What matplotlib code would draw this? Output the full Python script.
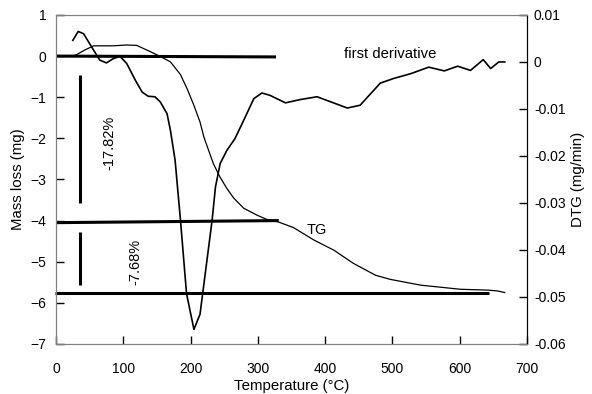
import numpy as np
import matplotlib.pyplot as plt

plt.rcParams['font.family'] = ['Liberation Sans', 'DejaVu Sans']
plt.rcParams['font.size'] = 10

# TG curve: temperature (C) vs mass loss (mg)
tg_temp = [25, 31, 43, 56, 70, 85, 105, 120, 140, 155, 170, 185, 195, 205,
           214, 220, 227, 234, 244, 254, 264, 279, 299, 313, 330, 353, 383,
           413, 442, 475, 497, 542, 601, 641, 656, 667]
tg_mass = [0.0, 0.04, 0.15, 0.25, 0.25, 0.25, 0.27, 0.26, 0.11, -0.01, -0.14,
           -0.45, -0.8, -1.2, -1.6, -1.98, -2.3, -2.62, -2.95, -3.22, -3.45,
           -3.7, -3.87, -3.97, -4.03, -4.17, -4.47, -4.72, -5.04, -5.33,
           -5.43, -5.57, -5.67, -5.69, -5.71, -5.75]

# first derivative: temperature (C) vs DTG (mg/min)
dtg_temp = [25, 33, 41, 56, 65, 75, 85, 95, 105, 118, 128, 137, 147, 155,
            165, 170, 177, 185, 194, 205, 214, 232, 237, 244, 254, 266, 279,
            294, 306, 318, 341, 363, 388, 433, 452, 482, 502, 527, 554, 577,
            597, 616, 635, 646, 658, 667]
dtg_val = [0.0046, 0.0065, 0.006, 0.0025, 0.0004, -0.0002, 0.0007, 0.0012,
           -0.0003, -0.0039, -0.0064, -0.0073, -0.0074, -0.0085, -0.011,
           -0.0145, -0.0209, -0.0337, -0.0493, -0.0569, -0.0537, -0.0337,
           -0.0266, -0.0216, -0.0188, -0.0163, -0.0124, -0.0078, -0.0066,
           -0.0071, -0.0087, -0.008, -0.0074, -0.0098, -0.0092, -0.0045,
           -0.0035, -0.0025, -0.0011, -0.0019, -0.0009, -0.0018, 0.0005,
           -0.0014, 0.0, 0.0]

# step baselines (T start, T end, mass start, mass end)
base_t0 = [0, 0, -2]
base_t1 = [327, 331, 643]
base_m0 = [0.0, -4.05, -5.75]
base_m1 = [-0.02, -4.0, -5.75]

# vertical step markers (T, mass top, mass bottom)
bar_t = [35, 36]
bar_top = [-0.46, -4.27]
bar_bot = [-3.58, -5.57]
step_labels = ['-17.82%', '-7.68%']
step_label_t = [80, 118]
step_label_m = [-2.1, -5.0]

fig = plt.figure(figsize=(5.92, 3.94), dpi=100)
ax = fig.add_axes([0.0946, 0.127, 0.7956, 0.835])
ax2 = ax.twinx()

ax.plot(tg_temp, tg_mass, color='black', lw=0.9)
for i in range(len(base_t0)):
    ax.plot([base_t0[i], base_t1[i]], [base_m0[i], base_m1[i]], color='black',
            lw=2.2, solid_capstyle='butt', clip_on=False)
for i in range(len(bar_t)):
    ax.plot([bar_t[i], bar_t[i]], [bar_top[i], bar_bot[i]], color='black',
            lw=2.2, solid_capstyle='butt')
    ax.text(step_label_t[i], step_label_m[i], step_labels[i], rotation=90,
            ha='center', va='center', fontsize=10.5)
ax.text(388, -4.23, 'TG', ha='center', va='center', fontsize=10.5)

ax2.plot(dtg_temp, dtg_val, color='black', lw=1.2)
ax2.text(497, 0.0017, 'first derivative', ha='center', va='center',
         fontsize=10.7)

ax.set_xlim(0, 700)
ax.set_ylim(-7, 1)
ax2.set_ylim(-0.06, 0.01)
ax.set_xticks(np.arange(0, 701, 100))
ax.set_yticks(np.arange(-7, 2, 1))
ax2.set_yticks([0.01, 0, -0.01, -0.02, -0.03, -0.04, -0.05, -0.06])
ax2.set_yticklabels(['0.01', '0', '-0.01', '-0.02', '-0.03', '-0.04',
                     '-0.05', '-0.06'])

ax.set_xlabel('Temperature (°C)', labelpad=2, fontsize=10.8)
ax.set_ylabel('Mass loss (mg)', labelpad=4, fontsize=10.8)
ax2.set_ylabel('DTG (mg/min)', labelpad=4, fontsize=10.8)

for s in ['left', 'top', 'bottom']:
    ax.spines[s].set_color('#808080')
    ax2.spines[s].set_color('#808080')
ax2.spines['right'].set_color('black')
ax.tick_params(direction='in', length=6, width=1, color='black')
ax.tick_params(axis='x', pad=13)
ax.tick_params(axis='y', pad=7)
ax2.tick_params(direction='in', length=6, width=1, color='black', pad=5)

fig.savefig('out.png', dpi=100)
